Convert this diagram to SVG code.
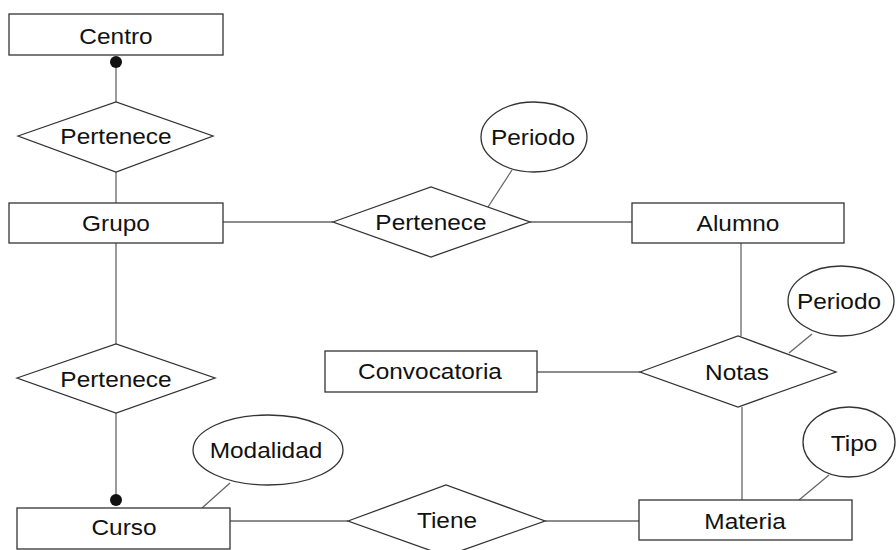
<svg xmlns="http://www.w3.org/2000/svg" width="896" height="550" viewBox="0 0 896 550">
<style>
.shape{fill:#fff;stroke:#333;stroke-width:1.3}
.conn{fill:none;stroke:#666;stroke-width:1.3}
.dot{fill:#111}
text{font-family:"Liberation Sans",Arial,sans-serif;font-size:22px;fill:#111;text-anchor:middle}
</style>
<rect width="896" height="550" fill="#fff"/>
<g id="connectors">
<line class="conn" x1="116" y1="62" x2="116" y2="102"/>
<line class="conn" x1="116" y1="172" x2="116" y2="203"/>
<line class="conn" x1="223" y1="222" x2="333" y2="222"/>
<line class="conn" x1="530" y1="222" x2="632" y2="222"/>
<line class="conn" x1="512" y1="170" x2="488" y2="207"/>
<line class="conn" x1="741" y1="243" x2="741" y2="336"/>
<line class="conn" x1="812" y1="334" x2="789" y2="353"/>
<line class="conn" x1="537" y1="372" x2="640" y2="372"/>
<line class="conn" x1="742" y1="407" x2="742" y2="500"/>
<line class="conn" x1="829" y1="475" x2="799" y2="500"/>
<line class="conn" x1="116" y1="243" x2="116" y2="344"/>
<line class="conn" x1="116" y1="413" x2="116" y2="500"/>
<line class="conn" x1="230" y1="483" x2="202" y2="508"/>
<line class="conn" x1="230" y1="521" x2="348" y2="521"/>
<line class="conn" x1="545" y1="521" x2="639" y2="521"/>
<circle class="dot" cx="116" cy="62" r="6"/>
<circle class="dot" cx="116" cy="500" r="6"/>
</g>
<g id="centro"><rect class="shape" x="9" y="14" width="214" height="41"/><text transform="matrix(1.11 0 0 1 116 44)">Centro</text></g>
<g id="pertenece1"><polygon class="shape" points="18,136 116,102 213,136 116,172"/><text transform="matrix(1.11 0 0 1 116 144)">Pertenece</text></g>
<g id="grupo"><rect class="shape" x="9" y="203" width="214" height="40"/><text transform="matrix(1.11 0 0 1 116 231)">Grupo</text></g>
<g id="pertenece2"><polygon class="shape" points="333,222 431,187 530,222 431,257"/><text transform="matrix(1.11 0 0 1 431 230)">Pertenece</text></g>
<g id="periodo1"><ellipse class="shape" cx="534" cy="137" rx="53" ry="35"/><text transform="matrix(1.11 0 0 1 533 145)">Periodo</text></g>
<g id="alumno"><rect class="shape" x="632" y="203" width="212" height="40"/><text transform="matrix(1.11 0 0 1 738 231)">Alumno</text></g>
<g id="periodo2"><ellipse class="shape" cx="841" cy="301" rx="53" ry="35"/><text transform="matrix(1.11 0 0 1 839 309)">Periodo</text></g>
<g id="notas"><polygon class="shape" points="640,372 738,336 836,372 738,407"/><text transform="matrix(1.11 0 0 1 737 380)">Notas</text></g>
<g id="convocatoria"><rect class="shape" x="325" y="351" width="212" height="41"/><text transform="matrix(1.11 0 0 1 430 379)">Convocatoria</text></g>
<g id="pertenece3"><polygon class="shape" points="17,378 116,344 215,378 116,413"/><text transform="matrix(1.11 0 0 1 116 387)">Pertenece</text></g>
<g id="modalidad"><ellipse class="shape" cx="268" cy="450" rx="75" ry="35"/><text transform="matrix(1.11 0 0 1 266 458)">Modalidad</text></g>
<g id="curso"><rect class="shape" x="17" y="508" width="213" height="41"/><text transform="matrix(1.11 0 0 1 124 535)">Curso</text></g>
<g id="tiene"><polygon class="shape" points="348,521 446,485 545,521 446,556"/><text transform="matrix(1.11 0 0 1 447 528)">Tiene</text></g>
<g id="materia"><rect class="shape" x="639" y="500" width="213" height="40"/><text transform="matrix(1.11 0 0 1 745 529)">Materia</text></g>
<g id="tipo"><ellipse class="shape" cx="849" cy="442" rx="46" ry="35"/><text transform="matrix(1.11 0 0 1 854 451)">Tipo</text></g>
</svg>
